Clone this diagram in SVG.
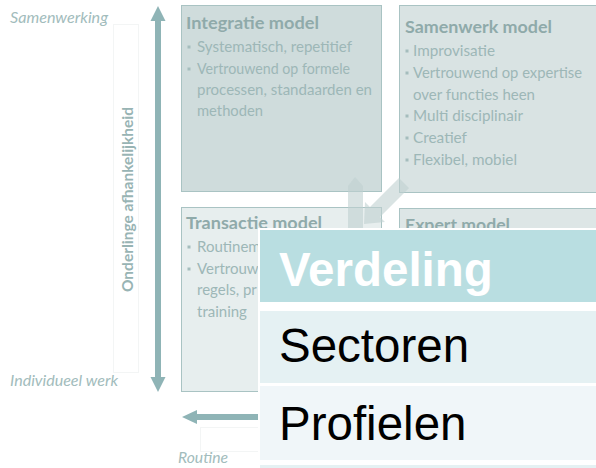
<svg xmlns="http://www.w3.org/2000/svg" width="596" height="468" viewBox="0 0 596 468">
<defs>
  <clipPath id="leftclip"><rect x="0" y="0" width="258" height="468"/></clipPath>
</defs>
<style>
.axis{font-family:Lato,"Open Sans",sans-serif;font-style:italic;font-size:15.5px;fill:#a2bcbc}
.vlab{font-family:Lato,"Open Sans",sans-serif;font-weight:bold;font-size:15.5px;fill:#98b4b4}
.ttl{font-family:Lato,"Open Sans",sans-serif;font-weight:bold;font-size:17px;fill:#8faaaa}
.bl{font-family:Lato,"Open Sans",sans-serif;font-size:15px;fill:#9db7b7}
.blt{fill:#a5bdbd}
.box{stroke:#a9c3c3;stroke-width:1}
.faint{fill:none;stroke:#f3f5f5;stroke-width:1}
.arr{fill:#8fb4b6}
.ghost{fill:#bfd1d1;opacity:0.6}
.hd{font-family:"Liberation Sans",Arial,sans-serif;font-weight:bold;font-size:47.5px;fill:#ffffff}
.rw{font-family:"Liberation Sans",Arial,sans-serif;font-size:47.5px;fill:#000000}
</style>
<rect width="596" height="468" fill="#ffffff"/>

<g id="axis-labels">
  <text class="axis" x="10" y="23" textLength="98" lengthAdjust="spacingAndGlyphs">Samenwerking</text>
  <text class="axis" x="10" y="386" textLength="108" lengthAdjust="spacingAndGlyphs">Individueel werk</text>
  <text class="axis" x="178" y="463" textLength="50" lengthAdjust="spacingAndGlyphs">Routine</text>
  <rect class="faint" x="113.5" y="24.5" width="25" height="348"/>
  <rect class="faint" x="200.5" y="427.5" width="70" height="24"/>
  <text class="vlab" transform="translate(133,199.5) rotate(-90)" text-anchor="middle" textLength="185" lengthAdjust="spacingAndGlyphs">Onderlinge afhankelijkheid</text>
</g>

<g id="integratie-model">
  <rect class="box" x="181.5" y="5.5" width="200" height="186" fill="#cfdcdc"/>
  <text class="ttl" x="186" y="29" textLength="133" lengthAdjust="spacingAndGlyphs">Integratie model</text>
  <rect class="blt" x="187.5" y="45.5" width="3" height="3"/>
  <text class="bl" x="197" y="52" textLength="155" lengthAdjust="spacingAndGlyphs">Systematisch, repetitief</text>
  <rect class="blt" x="187.5" y="67.5" width="3" height="3"/>
  <text class="bl" x="197" y="74" textLength="153" lengthAdjust="spacingAndGlyphs">Vertrouwend op formele</text>
  <text class="bl" x="197" y="95" textLength="175" lengthAdjust="spacingAndGlyphs">processen, standaarden en</text>
  <text class="bl" x="197" y="116" textLength="66" lengthAdjust="spacingAndGlyphs">methoden</text>
</g>

<g id="samenwerk-model">
  <rect class="box" x="399.5" y="5.5" width="200" height="187" fill="#d9e3e3"/>
  <text class="ttl" x="405" y="33" textLength="147" lengthAdjust="spacingAndGlyphs">Samenwerk model</text>
  <rect class="blt" x="405.5" y="49.5" width="3" height="3"/>
  <text class="bl" x="413" y="56" textLength="82" lengthAdjust="spacingAndGlyphs">Improvisatie</text>
  <rect class="blt" x="405.5" y="71.5" width="3" height="3"/>
  <text class="bl" x="413" y="78" textLength="169" lengthAdjust="spacingAndGlyphs">Vertrouwend op expertise</text>
  <text class="bl" x="413" y="99.5" textLength="122" lengthAdjust="spacingAndGlyphs">over functies heen</text>
  <rect class="blt" x="405.5" y="114.5" width="3" height="3"/>
  <text class="bl" x="413" y="121" textLength="110" lengthAdjust="spacingAndGlyphs">Multi disciplinair</text>
  <rect class="blt" x="405.5" y="136.5" width="3" height="3"/>
  <text class="bl" x="413" y="143" textLength="54" lengthAdjust="spacingAndGlyphs">Creatief</text>
  <rect class="blt" x="405.5" y="158.5" width="3" height="3"/>
  <text class="bl" x="413" y="165" textLength="104" lengthAdjust="spacingAndGlyphs">Flexibel, mobiel</text>
</g>

<g id="transactie-model">
  <rect class="box" x="181.5" y="207.5" width="200" height="184" fill="#e7eeee"/>
  <text class="ttl" x="186" y="229" textLength="136" lengthAdjust="spacingAndGlyphs">Transactie model</text>
  <g clip-path="url(#leftclip)">
    <rect class="blt" x="187.5" y="245.5" width="3" height="3"/>
    <text class="bl" x="197" y="252">Routinem</text>
    <rect class="blt" x="187.5" y="267.5" width="3" height="3"/>
    <text class="bl" x="197" y="274">Vertrouw</text>
    <text class="bl" x="197" y="295">regels, pr</text>
    <text class="bl" x="197" y="317">training</text>
  </g>
</g>

<g id="expert-model">
  <rect class="box" x="399.5" y="208.5" width="200" height="184" fill="#dde6e6"/>
  <text class="ttl" x="405" y="231" textLength="105" lengthAdjust="spacingAndGlyphs">Expert model</text>
</g>

<g id="connectors">
  <rect class="arr" x="155" y="20" width="6" height="358"/>
  <polygon class="arr" points="158,6 150.5,21 165.5,21"/>
  <polygon class="arr" points="158,392 150.5,377 165.5,377"/>
  <rect class="arr" x="196" y="414" width="70" height="6"/>
  <polygon class="arr" points="182,417 197,410 197,424"/>
  <polygon class="ghost" points="355,177 363,186 363,228 348,228 348,186"/>
  <polygon class="ghost" points="399,178 409,188 380,217 385,222 364,224 365,202 370,207"/>
</g>

<g id="verdeling-table">
  <rect x="258" y="228" width="338" height="240" fill="#ffffff"/>
  <rect x="260" y="230" width="336" height="72" fill="#b9dee1"/>
  <rect x="260" y="311" width="336" height="72" fill="#e5f1f3"/>
  <rect x="260" y="386" width="336" height="74" fill="#f0f6f9"/>
  <rect x="260" y="465" width="336" height="3" fill="#e5f1f3"/>
  <text class="hd" x="279" y="286">Verdeling</text>
  <text class="rw" x="279" y="362">Sectoren</text>
  <text class="rw" x="279" y="440">Profielen</text>
</g>
</svg>
